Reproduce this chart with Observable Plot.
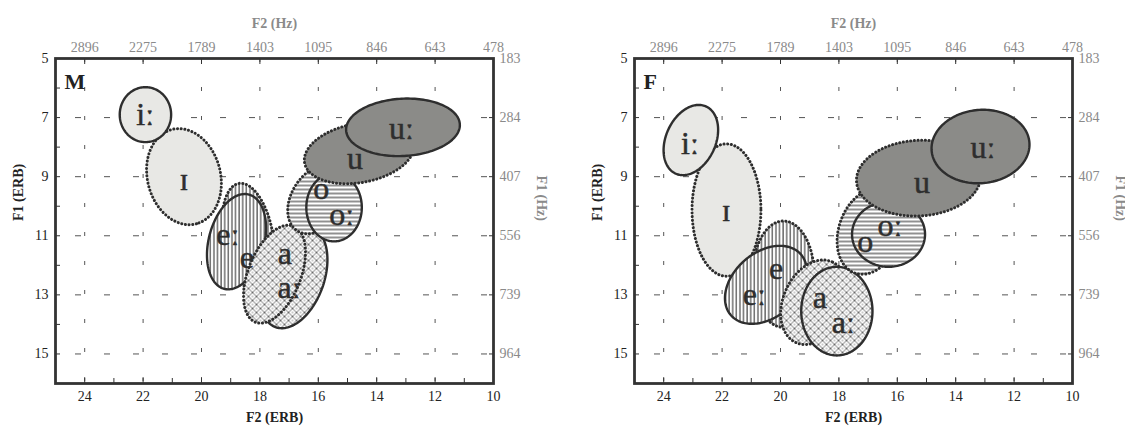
<!DOCTYPE html>
<html><head><meta charset="utf-8">
<script src="https://cdn.jsdelivr.net/npm/d3@7"></script>
<script src="https://cdn.jsdelivr.net/npm/@observablehq/plot@0.6"></script>
<style>
body{margin:0;background:#fff;}
#wrap{display:flex;width:1125px;height:428px;overflow:hidden;}
#wrap svg{display:block;flex:none;}
</style></head><body><div id="wrap"></div>
<script>
// ---- axis ticks / labels ----
const erbXTicks = [24, 22, 20, 18, 16, 14, 12, 10];
const hzXLabels = ["2896", "2275", "1789", "1403", "1095", "846", "643", "478"];
const erbXMinor = [23, 21, 19, 17, 15, 13, 11];
const erbYTicks = [5, 7, 9, 11, 13, 15];
const hzYLabels = ["183", "284", "407", "556", "739", "964"];
const erbYMinor = [6, 8, 10, 12, 14];
const gridX = [24, 22, 20, 18, 16, 14, 12];
const gridY = [7, 9, 11, 13, 15];

// ---- vowels ----
const vowels = ["ɪ", "iː", "e", "eː", "a", "aː", "o", "oː", "u", "uː"];
// Male (M): ellipse centre F2 / F1 (ERB), semi-axes (ERB), tilt (deg)
const mF2 = [20.6, 21.92, 18.4, 18.8, 17.5, 16.85, 16.0, 15.46, 14.6, 13.1];
const mF1 = [9.0, 6.9, 11.05, 11.2, 12.3, 12.4, 9.75, 10.04, 8.2, 7.33];
const mA = [1.65, 0.88, 1.85, 1.65, 1.75, 1.8, 1.3, 0.95, 1.9, 1.95];
const mB = [1.25, 0.93, 0.85, 0.95, 0.9, 1.05, 0.9, 1.15, 1.0, 0.97];
const mTilt = [75, 0, 80, -75, -68, -70, -55, 0, -10, -3];
const mLabelF2 = [20.6, 21.93, 18.45, 19.1, 17.15, 17.0, 15.9, 15.2, 14.74, 13.15];
const mLabelF1 = [9.1, 6.9, 11.75, 10.95, 11.62, 12.75, 9.4, 10.3, 8.4, 7.37];
// Female (F)
const fF2 = [21.85, 23.07, 19.9, 20.5, 18.85, 18.07, 16.95, 16.3, 15.27, 13.15];
const fF1 = [10.13, 7.76, 12.3, 12.66, 13.25, 13.55, 10.85, 10.95, 9.05, 7.98];
const fA = [1.18, 1.25, 1.05, 1.58, 1.5, 1.22, 1.5, 1.25, 2.13, 1.68];
const fB = [2.24, 0.85, 1.8, 1.1, 1.05, 1.5, 1.05, 1.1, 1.28, 1.24];
const fTilt = [0, -65, 0, -40, -65, 0, -70, 0, -3, -5];
const fLabelF2 = [21.86, 23.1, 20.15, 20.9, 18.65, 17.85, 17.1, 16.25, 15.15, 13.07];
const fLabelF1 = [10.15, 7.9, 12.1, 13.0, 13.1, 13.95, 11.2, 10.65, 9.19, 8.01];

// ---- styles ----
const LIGHT = "#e8e8e5", DARK = "#8b8b88", INK = "#2e2e2e";
const vowelFill = {"ɪ": LIGHT, "iː": LIGHT, "e": "url(#vhatch)", "eː": "url(#vhatch)",
  "a": "url(#xhatch)", "aː": "url(#xhatch)", "o": "url(#hhatch)", "oː": "url(#hhatch)",
  "u": DARK, "uː": DARK};
const dotted = new Set(["ɪ", "e", "a", "o", "u"]);

function ellipsePts(cx, cy, a, b, deg) {
  const th = deg * Math.PI / 180, pts = [], n = 160;
  for (let i = 0; i < n; i++) {
    const t = 2 * Math.PI * i / n;
    const dx = a * Math.cos(t) * Math.cos(th) - b * Math.sin(t) * Math.sin(th);
    const dy = a * Math.cos(t) * Math.sin(th) + b * Math.sin(t) * Math.cos(th);
    pts.push({x: cx - dx, y: cy + dy});
  }
  return pts;
}

function panel({letter, F2, F1, A, B, tilt, LF2, LF1, order, width, marginLeft, marginRight}) {
  const ellipseMarks = order.map(v => {
    const i = vowels.indexOf(v);
    const isDot = dotted.has(v);
    return Plot.line(ellipsePts(F2[i], F1[i], A[i], B[i], tilt[i]), {
      x: "x", y: "y", curve: "linear-closed",
      fill: vowelFill[v], stroke: INK,
      strokeWidth: isDot ? 3 : 2.4,
      strokeDasharray: isDot ? "0.1,3.6" : null,
      strokeLinecap: "round"
    });
  });
  const labels = vowels.map((v, i) => ({v, x: LF2[i], y: LF1[i]}));
  return Plot.plot({
    width, height: 428, marginTop: 58, marginBottom: 45, marginLeft, marginRight,
    style: {fontFamily: "'Liberation Serif','DejaVu Serif',serif", fontSize: "14px", color: "#222", background: "#fff"},
    x: {domain: [25, 10], label: null},
    y: {domain: [16, 5], label: null},
    marks: [
      Plot.ruleX(gridX, {stroke: "#555", strokeWidth: 1, strokeDasharray: "4,25"}),
      Plot.ruleY(gridY, {stroke: "#555", strokeWidth: 1, strokeDasharray: "6,23", strokeDashoffset: -20}),
      ...ellipseMarks,
      Plot.text(labels, {x: "x", y: "y", text: "v", fontSize: 32, fill: INK, stroke: INK, strokeWidth: 0.5}),
      // inward ticks
      Plot.axisX({anchor: "bottom", ticks: erbXTicks.concat(erbXMinor), tickSize: -5, tickFormat: () => "", stroke: "#333", label: null}),
      Plot.axisX({anchor: "top", ticks: erbXTicks, tickSize: -5, tickFormat: () => "", stroke: "#333", label: null}),
      Plot.axisY({anchor: "left", ticks: erbYTicks.concat(erbYMinor), tickSize: -5, tickFormat: () => "", stroke: "#333", label: null}),
      Plot.axisY({anchor: "right", ticks: erbYTicks, tickSize: -5, tickFormat: () => "", stroke: "#333", label: null}),
      // tick labels
      Plot.axisX({anchor: "bottom", ticks: erbXTicks, tickSize: 0, tickPadding: 8, fontSize: 14, color: "#222", label: null}),
      Plot.axisX({anchor: "top", ticks: erbXTicks, tickSize: 0, tickPadding: 7, fontSize: 14, color: "#8a8a8a", label: null,
        tickFormat: d => hzXLabels[erbXTicks.indexOf(d)]}),
      Plot.axisY({anchor: "left", ticks: erbYTicks, tickSize: 0, tickPadding: 7, fontSize: 14, color: "#222", label: null}),
      Plot.axisY({anchor: "right", ticks: erbYTicks, tickSize: 0, tickPadding: 6, fontSize: 14, color: "#8a8a8a", label: null,
        tickFormat: d => hzYLabels[erbYTicks.indexOf(d)]}),
      Plot.frame({stroke: "#333", strokeWidth: 2.8}),
      // axis titles
      Plot.text(["F2 (ERB)"], {text: d => d, frameAnchor: "bottom", dy: 38, fontWeight: "bold", fontSize: 14, fill: "#222"}),
      Plot.text(["F2 (Hz)"], {text: d => d, frameAnchor: "top", dy: -40, fontWeight: "bold", fontSize: 14, fill: "#8a8a8a"}),
      Plot.text(["F1 (ERB)"], {text: d => d, frameAnchor: "left", dx: -37, rotate: -90, fontWeight: "bold", fontSize: 14, fill: "#222"}),
      Plot.text(["F1 (Hz)"], {text: d => d, frameAnchor: "right", dx: 48, rotate: 90, fontWeight: "bold", fontSize: 14, fill: "#8a8a8a"}),
      Plot.text([letter], {text: d => d, frameAnchor: "top-left", dx: 9, dy: 15, fontWeight: "bold", fontSize: 22, textAnchor: "start", fill: "#222"})
    ]
  });
}

function addDefs(svg) {
  const defs = d3.select(svg).insert("defs", ":first-child");
  const v = defs.append("pattern").attr("id", "vhatch").attr("patternUnits", "userSpaceOnUse").attr("width", 3.6).attr("height", 10);
  v.append("rect").attr("width", 3.6).attr("height", 10).attr("fill", "#fff");
  v.append("line").attr("x1", 1).attr("x2", 1).attr("y1", 0).attr("y2", 10).attr("stroke", "#222").attr("stroke-width", 1);
  const h = defs.append("pattern").attr("id", "hhatch").attr("patternUnits", "userSpaceOnUse").attr("width", 10).attr("height", 4);
  h.append("rect").attr("width", 10).attr("height", 4).attr("fill", "#fff");
  h.append("line").attr("x1", 0).attr("x2", 10).attr("y1", 1).attr("y2", 1).attr("stroke", "#222").attr("stroke-width", 1);
  const x = defs.append("pattern").attr("id", "xhatch").attr("patternUnits", "userSpaceOnUse").attr("width", 8).attr("height", 8);
  x.append("rect").attr("width", 8).attr("height", 8).attr("fill", "#fff");
  x.append("path").attr("d", "M0,0L8,8M8,0L0,8").attr("stroke", "#444").attr("stroke-width", 0.8).attr("fill", "none");
  x.append("path").attr("d", "M4,-1L4,1M4,7L4,9M-1,4L1,4M7,4L9,4").attr("stroke", "#666").attr("stroke-width", 0.7);
}

const wrap = document.getElementById("wrap");
const left = panel({letter: "M", F2: mF2, F1: mF1, A: mA, B: mB, tilt: mTilt, LF2: mLabelF2, LF1: mLabelF1,
  order: ["ɪ", "iː", "e", "eː", "aː", "a", "o", "oː", "u", "uː"], width: 562, marginLeft: 55, marginRight: 69});
const right = panel({letter: "F", F2: fF2, F1: fF1, A: fA, B: fB, tilt: fTilt, LF2: fLabelF2, LF1: fLabelF1,
  order: ["ɪ", "iː", "e", "eː", "a", "aː", "o", "oː", "u", "uː"], width: 563, marginLeft: 72, marginRight: 53});
addDefs(left);
wrap.appendChild(left);
wrap.appendChild(right);
</script>
</body></html>
